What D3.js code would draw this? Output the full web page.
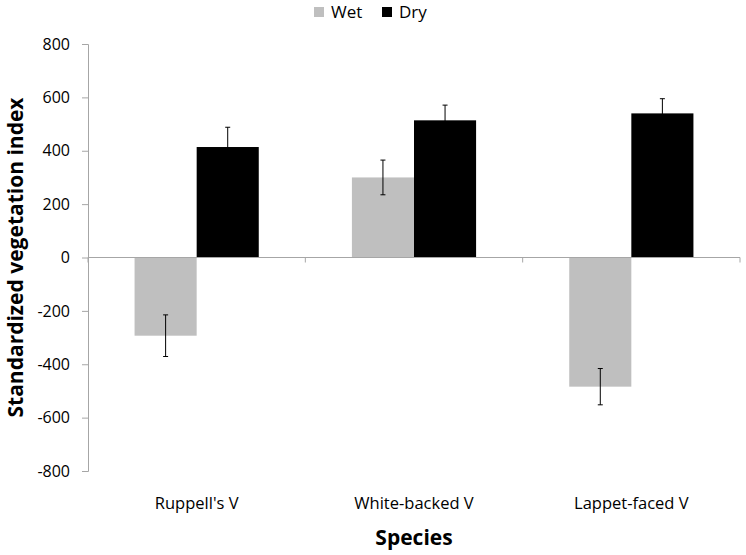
<!DOCTYPE html>
<html>
<head>
<meta charset="utf-8">
<script src="https://cdn.jsdelivr.net/npm/d3@7"></script>
<style>
  html, body { margin: 0; padding: 0; background: #fff; }
  svg { display: block; font-family: "Open Sans", "Noto Sans", sans-serif; }
</style>
</head>
<body>
<svg id="chart" width="746" height="555"></svg>
<script>
// ---- data ----
const categories = ["Ruppell's V", "White-backed V", "Lappet-faced V"];
const seriesNames = ["Wet", "Dry"];
const wetValues = [-293, 300, -484];
const dryValues = [414, 514, 540];
const wetErrors = [78, 65, 68];
const dryErrors = [74, 57, 55];
const yTicks = [-800, -600, -400, -200, 0, 200, 400, 600, 800];
const xTitle = "Species";
const yTitle = "Standardized vegetation index";

(function () {
// ---- layout ----
const svg = d3.select("#chart");
const mLeft = 88, mRight = 740, mTop = 44, mBottom = 471;
const colors = { Wet: "#bfbfbf", Dry: "#000000" };
const axisColor = "#a6a6a6";

const rows = categories.map((c, i) => ({
  cat: c,
  vals: [
    { s: "Wet", v: wetValues[i], e: wetErrors[i] },
    { s: "Dry", v: dryValues[i], e: dryErrors[i] }
  ]
}));

const x0 = d3.scaleBand().domain(categories).range([mLeft, mRight]).paddingInner(0).paddingOuter(0);
const x1 = d3.scaleBand().domain(seriesNames).range([0, x0.bandwidth()]).paddingInner(0).paddingOuter(0.75);
const y = d3.scaleLinear().domain([-800, 800]).range([mBottom, mTop]);

// y axis
const yAxis = d3.axisLeft(y).tickValues(yTicks).tickSize(6).tickPadding(12).tickFormat(d => String(d));
const gy = svg.append("g").attr("transform", `translate(${mLeft},0)`).call(yAxis);
gy.select(".domain").attr("stroke", axisColor);
gy.selectAll(".tick line").attr("stroke", axisColor);
gy.selectAll(".tick text").attr("fill", "#000").style("font-size", "16px").style("font-family", "Open Sans");

// bars
const groups = svg.append("g").selectAll("g").data(rows).join("g")
  .attr("transform", d => `translate(${x0(d.cat)},0)`);

groups.selectAll("rect").data(d => d.vals).join("rect")
  .attr("x", d => x1(d.s))
  .attr("width", x1.bandwidth())
  .attr("y", d => y(Math.max(0, d.v)))
  .attr("height", d => Math.abs(y(d.v) - y(0)))
  .attr("fill", d => colors[d.s]);

// x axis at zero
const xAxisG = svg.append("g").attr("transform", `translate(0,${y(0)})`);
xAxisG.append("line").attr("x1", mLeft).attr("x2", mRight).attr("y1", 0).attr("y2", 0).attr("stroke", axisColor);
const boundaries = categories.map(c => x0(c)).concat([mRight]);
xAxisG.selectAll("line.tk").data(boundaries).join("line").attr("class", "tk")
  .attr("x1", d => d).attr("x2", d => d).attr("y1", 0).attr("y2", 5).attr("stroke", axisColor);

// error bars
const eb = groups.selectAll("g.err").data(d => d.vals).join("g").attr("class", "err")
  .attr("transform", d => `translate(${x1(d.s) + x1.bandwidth() / 2},0)`);
eb.append("line").attr("x1", 0).attr("x2", 0)
  .attr("y1", d => y(d.v + d.e)).attr("y2", d => y(d.v - d.e))
  .attr("stroke", "#000").attr("stroke-width", 1);
eb.append("line").attr("x1", -2.5).attr("x2", 2.5)
  .attr("y1", d => y(d.v + d.e)).attr("y2", d => y(d.v + d.e))
  .attr("stroke", "#000").attr("stroke-width", 1);
eb.append("line").attr("x1", -2.5).attr("x2", 2.5)
  .attr("y1", d => y(d.v - d.e)).attr("y2", d => y(d.v - d.e))
  .attr("stroke", "#000").attr("stroke-width", 1);

// category labels
svg.append("g").selectAll("text").data(categories).join("text")
  .attr("x", d => x0(d) + x0.bandwidth() / 2)
  .attr("y", 509)
  .attr("text-anchor", "middle")
  .style("font-size", "16.5px")
  .text(d => d);

// axis titles
svg.append("text").attr("x", (mLeft + mRight) / 2).attr("y", 545)
  .attr("text-anchor", "middle").style("font-size", "21px").style("font-weight", "bold")
  .text(xTitle);
svg.append("text").attr("transform", `translate(23,${y(0)}) rotate(-90)`)
  .attr("text-anchor", "middle").style("font-size", "21px").style("font-weight", "bold")
  .text(yTitle);

// legend
const legendX = [314, 382];
const li = svg.append("g").selectAll("g").data(seriesNames).join("g")
  .attr("transform", (d, i) => `translate(${legendX[i]},0)`);
li.append("rect").attr("x", 0).attr("y", 7).attr("width", 10).attr("height", 10).attr("fill", d => colors[d]);
li.append("text").attr("x", 17).attr("y", 18).style("font-size", "17px").text(d => d);
})();
</script>
</body>
</html>
